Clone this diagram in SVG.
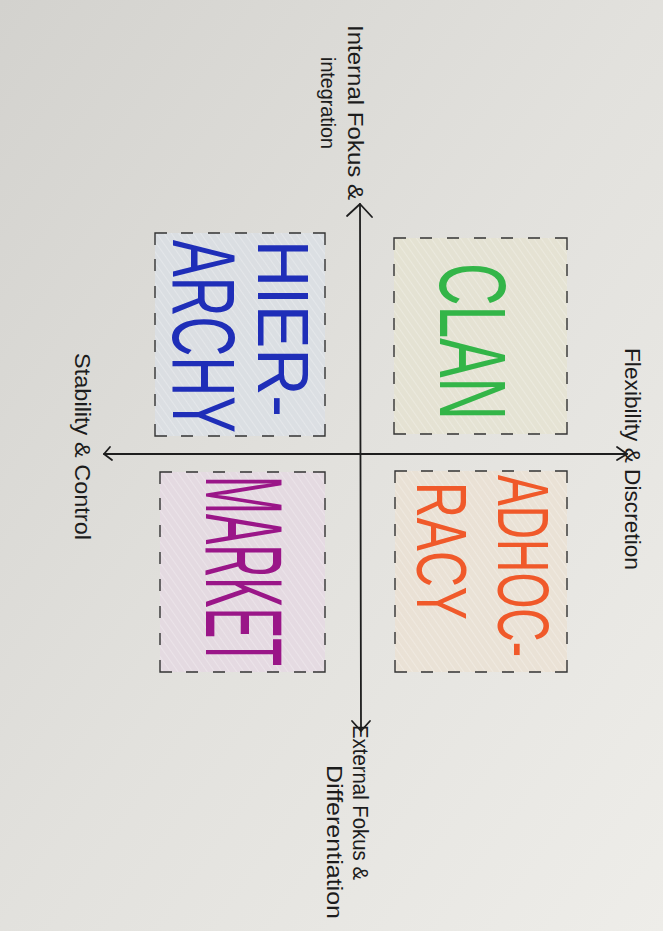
<svg xmlns="http://www.w3.org/2000/svg" width="663" height="931" viewBox="0 0 663 931">
  <defs>
    <linearGradient id="paper" x1="0" y1="0" x2="1" y2="1">
      <stop offset="0" stop-color="#d3d2ce"/>
      <stop offset="0.5" stop-color="#e2e1dd"/>
      <stop offset="1" stop-color="#eeede9"/>
    </linearGradient>
    <pattern id="hatch" width="6" height="6" patternUnits="userSpaceOnUse" patternTransform="rotate(-35)">
      <line x1="0" y1="0" x2="0" y2="6" stroke="#ffffff" stroke-width="2" stroke-opacity="0.25"/>
    </pattern>
    <style>
      .frame { fill: none; stroke: #333333; stroke-width: 1.4; }
      .dash { stroke-dasharray: 12 15; }
      .axis { stroke: #1e1e1e; stroke-width: 1.8; fill: none; stroke-linecap: round; stroke-linejoin: round; }
      .note { font-family: "Liberation Sans Narrow", "Liberation Sans", sans-serif; fill: #1c1c1c; }
      .big { font-family: "Liberation Sans Narrow", "Liberation Sans", sans-serif; }
    </style>
  </defs>

  <!-- paper -->
  <rect width="663" height="931" fill="url(#paper)"/>

  <!-- quadrant: CLAN -->
  <g id="clan">
    <rect x="394" y="238" width="173" height="196" fill="#e6e3cf" opacity="0.7"/>
    <rect x="394" y="238" width="173" height="196" fill="url(#hatch)"/>
    <path class="frame" d="M394 250 V238 H406 M555 238 H567 V250 M567 422 V434 H555 M406 434 H394 V422"/>
    <path class="frame dash" d="M420 238 H548 M420 434 H548 M394 264 V414 M567 264 V414"/>
    <text class="big" transform="translate(440,263) rotate(90)" font-size="94" fill="#33b548" textLength="157" lengthAdjust="spacingAndGlyphs">CLAN</text>
  </g>

  <!-- quadrant: HIERARCHY -->
  <g id="hierarchy">
    <rect x="155" y="233" width="170" height="203" fill="#d9dfe6" opacity="0.75"/>
    <rect x="155" y="233" width="170" height="203" fill="url(#hatch)"/>
    <path class="frame" d="M155 245 V233 H167 M313 233 H325 V245 M325 424 V436 H313 M167 436 H155 V424"/>
    <path class="frame dash" d="M181 233 H306 M181 436 H306 M155 259 V416 M325 259 V416"/>
    <text class="big" transform="translate(258,240) rotate(90)" font-size="73" fill="#1f2eb8" textLength="177" lengthAdjust="spacingAndGlyphs">HIER-</text>
    <text class="big" transform="translate(173,240) rotate(90)" font-size="89" fill="#1f2eb8" textLength="193" lengthAdjust="spacingAndGlyphs">ARCHY</text>
  </g>

  <!-- quadrant: ADHOCRACY -->
  <g id="adhocracy">
    <rect x="395" y="471" width="172" height="201" fill="#ebe0d2" opacity="0.75"/>
    <rect x="395" y="471" width="172" height="201" fill="url(#hatch)"/>
    <path class="frame" d="M395 483 V471 H407 M555 471 H567 V483 M567 660 V672 H555 M407 672 H395 V660"/>
    <path class="frame dash" d="M421 471 H548 M421 672 H548 M395 497 V652 M567 497 V652"/>
    <text class="big" transform="translate(498,475) rotate(90)" font-size="73" fill="#f0592a" textLength="182" lengthAdjust="spacingAndGlyphs">ADHOC-</text>
    <text class="big" transform="translate(417,482) rotate(90)" font-size="71" fill="#f0592a" textLength="138" lengthAdjust="spacingAndGlyphs">RACY</text>
  </g>

  <!-- quadrant: MARKET -->
  <g id="market">
    <rect x="160" y="472" width="165" height="200" fill="#e5d8e2" opacity="0.8"/>
    <rect x="160" y="472" width="165" height="200" fill="url(#hatch)"/>
    <path class="frame" d="M160 484 V472 H172 M313 472 H325 V484 M325 660 V672 H313 M172 672 H160 V660"/>
    <path class="frame dash" d="M186 472 H306 M186 672 H306 M160 498 V652 M325 498 V652"/>
    <text class="big" transform="translate(206,476) rotate(90)" font-size="110" fill="#9a1688" textLength="190" lengthAdjust="spacingAndGlyphs">MARKET</text>
  </g>

  <!-- axes -->
  <g id="connectors">
    <path class="axis" d="M360 204 L361 731"/>
    <path class="axis" d="M347 216 L360 204 L372 217"/>
    <path class="axis" d="M352 721 L361 731 L370 721"/>
    <path class="axis" d="M104 454 L627 454"/>
    <path class="axis" d="M110 447 L104 454 L112 460"/>
    <path class="axis" d="M617 447 L627 454 L617 460"/>
  </g>

  <!-- axis labels -->
  <g id="label-top">
    <text class="note" transform="translate(348,25) rotate(90)" font-size="22" textLength="175" lengthAdjust="spacingAndGlyphs">Internal Fokus &amp;</text>
    <text class="note" transform="translate(321,57) rotate(90)" font-size="20" textLength="92" lengthAdjust="spacingAndGlyphs">integration</text>
  </g>
  <g id="label-left">
    <text class="note" transform="translate(75,353) rotate(90)" font-size="22" textLength="187" lengthAdjust="spacingAndGlyphs">Stability &amp; Control</text>
  </g>
  <g id="label-right">
    <text class="note" transform="translate(625,348) rotate(90)" font-size="22" textLength="222" lengthAdjust="spacingAndGlyphs">Flexibility &amp; Discretion</text>
  </g>
  <g id="label-bottom">
    <text class="note" transform="translate(353,725) rotate(90)" font-size="22" textLength="155" lengthAdjust="spacingAndGlyphs">External Fokus &amp;</text>
    <text class="note" transform="translate(327,765) rotate(90)" font-size="22" textLength="154" lengthAdjust="spacingAndGlyphs">Differentiation</text>
  </g>
</svg>
